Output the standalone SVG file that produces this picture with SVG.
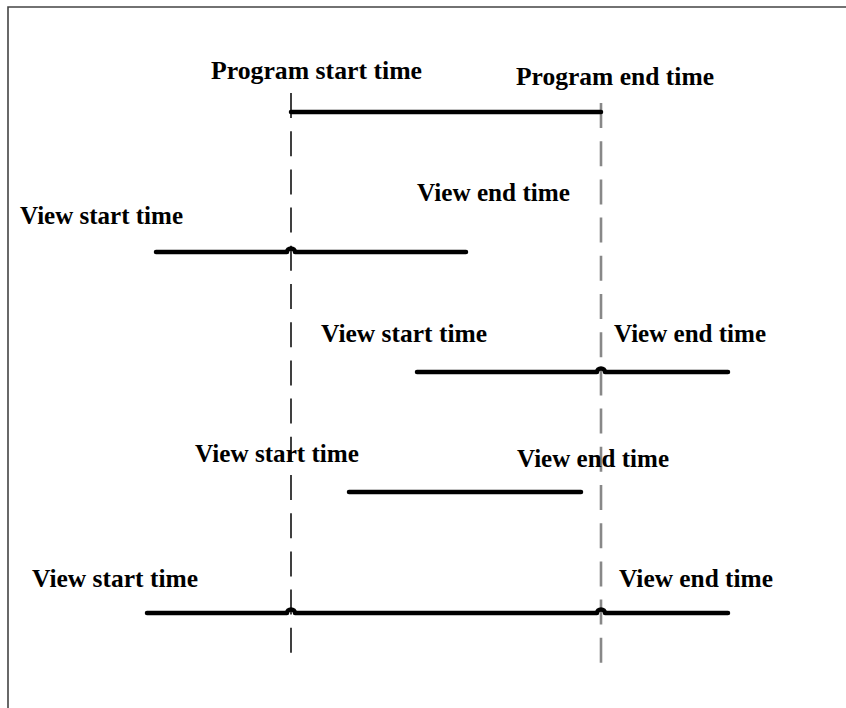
<svg xmlns="http://www.w3.org/2000/svg" width="846" height="708" viewBox="0 0 846 708">
<style>
text{font-family:"Liberation Serif","Times New Roman",serif;font-weight:bold;font-size:25px;fill:#000}
.bar{fill:none;stroke:#000;stroke-width:4.5;stroke-linecap:round;stroke-linejoin:round}
.dashL{stroke:#111;stroke-width:1.6;stroke-dasharray:25 13.2;fill:none}
.dashR{stroke:#888;stroke-width:2.6;stroke-dasharray:25 13.2;fill:none}
.frame{stroke:#444;stroke-width:1.6;fill:none}
</style>
<rect width="846" height="708" fill="#fff"/>
<path class="frame" d="M8 708 V7 H846"/>
<g id="guides">
<line class="dashL" x1="291" y1="93" x2="291" y2="653"/>
<line class="dashR" x1="601" y1="103" x2="601" y2="663"/>
</g>
<g id="program">
<path class="bar" d="M291 112 H601"/>
<text x="211" y="79" textLength="211" lengthAdjust="spacingAndGlyphs">Program start time</text>
<text x="516" y="85" textLength="198" lengthAdjust="spacingAndGlyphs">Program end time</text>
</g>
<g id="view1">
<path class="bar" d="M156 252 H287 A4 3.5 0 0 1 295 252 H466"/>
<text x="20" y="224" textLength="163" lengthAdjust="spacingAndGlyphs">View start time</text>
<text x="417" y="201" textLength="153" lengthAdjust="spacingAndGlyphs">View end time</text>
</g>
<g id="view2">
<path class="bar" d="M417 372 H597 A4 3.5 0 0 1 605 372 H728"/>
<text x="321" y="342" textLength="166" lengthAdjust="spacingAndGlyphs">View start time</text>
<text x="614" y="342" textLength="152" lengthAdjust="spacingAndGlyphs">View end time</text>
</g>
<g id="view3">
<path class="bar" d="M349 492 H581"/>
<text x="195" y="462" textLength="164" lengthAdjust="spacingAndGlyphs">View start time</text>
<text x="517" y="467" textLength="152" lengthAdjust="spacingAndGlyphs">View end time</text>
</g>
<g id="view4">
<path class="bar" d="M147 613 H287 A4 3.5 0 0 1 295 613 H597 A4 3.5 0 0 1 605 613 H728"/>
<text x="32" y="587" textLength="166" lengthAdjust="spacingAndGlyphs">View start time</text>
<text x="619" y="587" textLength="154" lengthAdjust="spacingAndGlyphs">View end time</text>
</g>
</svg>
